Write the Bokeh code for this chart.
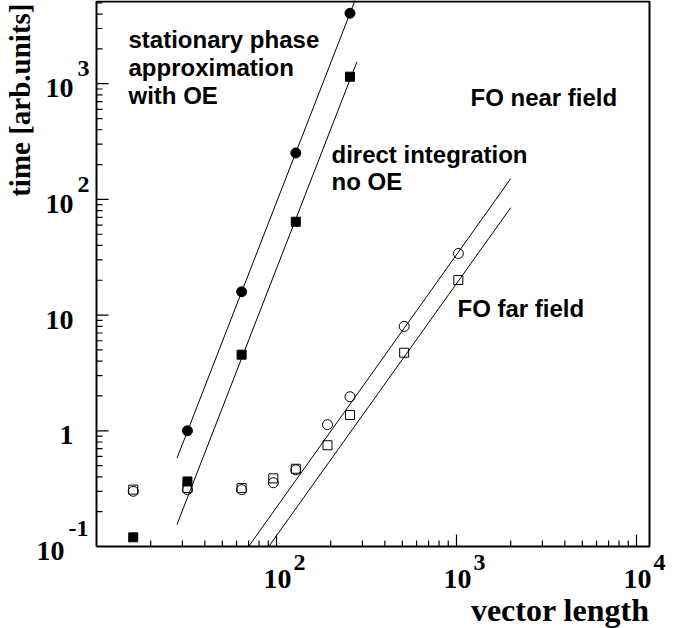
import math
from bokeh.plotting import figure
from bokeh.models import Range1d, Label
from bokeh.embed import file_html
from bokeh.resources import INLINE

# ---- measured timings -------------------------------------------------
# stationary phase approximation with OE (filled circles)
n_sp = [32, 64, 128, 256]
t_sp = [1.0, 15.9, 252, 4060]
# direct integration, no OE (filled squares)
n_di = [16, 32, 64, 128, 256]
t_di = [0.12, 0.365, 4.55, 64.1, 1150]
# FO method (open circles / open squares)
n_fo = [16, 32, 64, 96, 128, 192, 256, 512, 1024]
t_fo_circ = [0.30, 0.31, 0.31, 0.356, 0.46, 1.13, 1.97, 7.98, 34.1]
t_fo_sq = [0.31, 0.32, 0.32, 0.388, 0.47, 0.75, 1.37, 4.73, 20.1]

# power-law fits (end points of the straight lines in log-log space)
fit_sp_n, fit_sp_t = [28, 280], [0.58, 5800]
fit_di_n, fit_di_t = [28, 280], [0.155, 1550]
fit_fo_circ_n, fit_fo_circ_t = [70, 2000], [0.1, 151]
fit_fo_sq_n, fit_fo_sq_t = [90.6, 2000], [0.1, 84.7]

# axis ticks
x_major = [10, 100, 1000, 10000]
y_major = [0.1, 1, 10, 100, 1000]
x_labels = [(100, "2"), (1000, "3"), (10000, "4")]
y_labels = [(1000, "10", "3"), (100, "10", "2"), (10, "10", ""), (1, "1", ""), (0.1, "10", "-1")]

# ---- layout -----------------------------------------------------------
# The frame covers the whole canvas; the plot box, its ticks, the decade
# labels and the titles are all drawn in data space on log scales.
W, H = 688, 628
BOX_L, BOX_R, BOX_T, BOX_B = 96, 649, 1, 546   # pixel edges of the plot box
XDEC = 180.0    # pixels per decade on x
YDEC = 115.7    # pixels per decade on y
x_min, y_min = 10.0, 0.1                       # values at the box's lower-left corner


def px(sx, sy):
    """canvas pixel -> data coordinates"""
    x = x_min * 10 ** ((sx - BOX_L) / XDEC)
    y = y_min * 10 ** ((BOX_B - sy) / YDEC)
    return x, y


x_lo, y_hi = px(0, 0)
x_hi, y_lo = px(W, H)
x_max, y_max = px(BOX_R, BOX_T)

p = figure(width=W, height=H, x_axis_type="log", y_axis_type="log",
           x_range=Range1d(x_lo, x_hi), y_range=Range1d(y_lo, y_hi),
           output_backend="svg", toolbar_location=None, min_border=0)
p.xaxis.visible = False
p.yaxis.visible = False
p.xgrid.visible = False
p.ygrid.visible = False
p.outline_line_color = None
p.background_fill_color = "white"
p.border_fill_color = "white"

# ---- plot box and inward ticks ------------------------------------------
p.line([x_min, x_max, x_max, x_min, x_min], [y_min, y_min, y_max, y_max, y_min],
       line_color="black", line_width=2)

x_minor = [m * 10 ** k for k in range(1, 5) for m in range(2, 10) if m * 10 ** k < x_max]
y_minor = [m * 10.0 ** k for k in range(-1, 4) for m in range(2, 10) if m * 10.0 ** k < y_max]
x_major_in = [v for v in x_major if x_min < v < x_max]
y_major_in = [v for v in y_major if y_min < v < y_max]

p.ray(x=x_major_in, y=[y_min] * len(x_major_in), length=12, length_units="screen",
      angle=math.pi / 2, line_color="black", line_width=1.2)
p.ray(x=x_minor, y=[y_min] * len(x_minor), length=6, length_units="screen",
      angle=math.pi / 2, line_color="black", line_width=1.2)
p.ray(x=[x_min] * len(y_major_in), y=y_major_in, length=12, length_units="screen",
      angle=0, line_color="black", line_width=1.2)
p.ray(x=[x_min] * len(y_minor), y=y_minor, length=6, length_units="screen",
      angle=0, line_color="black", line_width=1.2)

# ---- fits and data ----------------------------------------------------
for xs, ys in [(fit_sp_n, fit_sp_t), (fit_di_n, fit_di_t),
               (fit_fo_circ_n, fit_fo_circ_t), (fit_fo_sq_n, fit_fo_sq_t)]:
    p.line(xs, ys, line_color="black", line_width=1)

p.scatter(n_sp, t_sp, marker="circle", size=10, fill_color="black", line_color="black")
p.scatter(n_di, t_di, marker="square", size=9, fill_color="black", line_color="black")
p.scatter(n_fo, t_fo_sq, marker="square", size=9, fill_color=None, line_color="black")
p.scatter(n_fo, t_fo_circ, marker="circle", size=10, fill_color=None, line_color="black")

# ---- text helper: (sx, sy) is the baseline point in canvas pixels ------
SERIF = "Liberation Serif"
SANS = "Liberation Sans"


def label(sx, sy, text, align, size, font, angle=0.0):
    shift = 0.34 * size            # baseline -> middle of the em box
    if angle:
        sx -= shift
    else:
        sy -= shift
    x, y = px(sx, sy)
    p.add_layout(Label(x=x, y=y, text=text, angle=angle,
                       text_align=align, text_baseline="middle",
                       text_font=SERIF if font == "serif" else SANS,
                       text_font_style="bold", text_font_size=f"{size}px",
                       text_color="black"))


# decade labels
for val, exp in x_labels:
    xt = BOX_L + XDEC * math.log10(val / x_min)
    label(xt + 1, 588, "10", "center", 28, "serif")
    label(xt + 17, 570, exp, "left", 24, "serif")

for val, base, exp in y_labels:
    yt = BOX_B - YDEC * math.log10(val / y_min)
    if exp == "-1":
        label(64, yt + 14, base, "right", 28, "serif")
        label(68, yt - 10, exp, "left", 24, "serif")
    else:
        label(73, yt + 14, base, "right", 28, "serif")
        if exp:
            label(77, yt - 7, exp, "left", 24, "serif")

# axis titles
label(BOX_R, 620, "vector length", "right", 32, "serif")
label(29, 3, "time [arb.units]", "right", 29, "serif", angle=math.pi / 2)

# annotations
notes = [
    (128, 47.5, "stationary phase"),
    (128, 75.5, "approximation"),
    (128, 103, "with OE"),
    (331, 162, "direct integration"),
    (331, 189, "no OE"),
    (470, 105, "FO near field"),
    (457, 316, "FO far field"),
]
for sx, sy, txt in notes:
    label(sx, sy, txt, "left", 24, "sans")

open("out.html", "w").write(file_html(p, INLINE))
